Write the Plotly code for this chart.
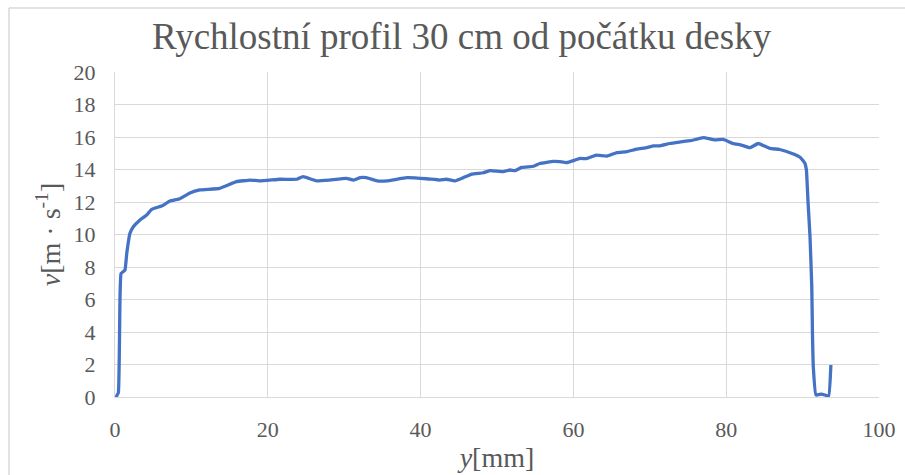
import plotly.graph_objects as go

# Velocity profile samples: distance from the plate y [mm] and velocity v [m/s]
y_mm = [0.0, 0.13, 0.44, 0.65, 0.79, 1.3, 1.53, 1.96, 2.4, 3.27, 4.15, 4.8, 6.1, 7.2,
        8.5, 9.8, 11.1, 13.7, 15.9, 17.7, 19.0, 21.6, 23.8, 24.6, 26.4, 28.1, 30.3,
        31.2, 32.1, 32.9, 34.3, 35.6, 38.2, 40.8, 42.5, 43.4, 44.5, 45.6, 46.7, 48.2,
        49.1, 50.8, 51.7, 52.4, 53.2, 54.8, 55.6, 57.4, 58.2, 59.1, 60.9, 61.7, 63.0,
        64.4, 65.7, 67.0, 68.3, 69.6, 70.5, 71.3, 72.6, 73.9, 75.3, 77.0, 78.5, 79.6,
        80.9, 82.0, 83.1, 84.2, 85.7, 87.0, 88.8, 89.7, 90.3, 90.5, 90.7, 90.97, 91.2,
        91.3, 91.4, 91.75, 92.5, 93.4, 93.7]
v_ms = [0.0, 0.0, 0.27, 6.0, 7.6, 7.8, 8.8, 10.07, 10.48, 10.9, 11.2, 11.55, 11.75, 12.06,
        12.2, 12.55, 12.74, 12.84, 13.25, 13.35, 13.3, 13.4, 13.4, 13.56, 13.3, 13.35, 13.45,
        13.35, 13.5, 13.5, 13.3, 13.3, 13.5, 13.43, 13.35, 13.4, 13.3, 13.5, 13.72, 13.8,
        13.93, 13.87, 13.97, 13.93, 14.13, 14.2, 14.37, 14.5, 14.48, 14.42, 14.68, 14.67, 14.89,
        14.83, 15.04, 15.1, 15.26, 15.34, 15.45, 15.45, 15.6, 15.69, 15.77, 15.96, 15.82, 15.85,
        15.6, 15.5, 15.34, 15.6, 15.3, 15.23, 14.95, 14.74, 14.38, 13.97, 12.1, 9.86, 6.79,
        3.7, 1.86, 0.12, 0.18, 0.06, 1.97]

x_ticks = [0, 20, 40, 60, 80, 100]
y_ticks = [0, 2, 4, 6, 8, 10, 12, 14, 16, 18, 20]

font_family = "Times New Roman, Liberation Serif, serif"
text_grey = "#595959"
grid_grey = "#d9d9d9"
tick_font = dict(family=font_family, size=22, color=text_grey)
label_font = dict(family=font_family, size=28, color=text_grey)

fig = go.Figure()
fig.add_trace(go.Scatter(
    x=y_mm, y=v_ms, mode="lines",
    line=dict(color="#4472C4", width=3.3, shape="spline", smoothing=0.3),
    hoverinfo="x+y",
))

fig.update_layout(
    width=905, height=475,
    margin=dict(l=115, r=26, t=72, b=78),
    paper_bgcolor="white", plot_bgcolor="white",
    showlegend=False,
    font=dict(family=font_family, color=text_grey, size=22),
    title=dict(
        text="Rychlostní profil 30 cm od počátku desky",
        x=0.51, xref="container", xanchor="center",
        y=0.925, yref="container", yanchor="middle",
        font=dict(family=font_family, size=37, color=text_grey),
    ),
    xaxis=dict(
        range=[0, 100], tickvals=x_ticks, ticktext=[str(t) for t in x_ticks],
        tickfont=tick_font, automargin=False,
        showgrid=True, gridcolor=grid_grey, gridwidth=1.3,
        zeroline=False, showline=True, linecolor=grid_grey, linewidth=1.3,
        ticks="", ticklabelstandoff=12,
        title=dict(text="<i>y</i>[mm]", standoff=6, font=label_font),
    ),
    yaxis=dict(
        range=[0, 20], tickvals=y_ticks, ticktext=[str(t) for t in y_ticks],
        tickfont=tick_font, automargin=False,
        showgrid=True, gridcolor=grid_grey, gridwidth=1.3,
        zeroline=False, showline=True, linecolor=grid_grey, linewidth=1.3,
        ticks="", ticklabelstandoff=14,
        title=dict(text="<i>v</i>[m · s<sup>-1</sup>]", standoff=4, font=label_font),
    ),
)

# Light frame around the chart area
fig.add_shape(type="line", xref="paper", yref="paper",
              x0=(9 - 115) / 764, x1=(9 - 115) / 764, y0=(397 - 480) / 325, y1=(397 - 8) / 325,
              line=dict(color=grid_grey, width=1.5))
fig.add_shape(type="line", xref="paper", yref="paper",
              x0=(9 - 115) / 764, x1=(910 - 115) / 764, y0=(397 - 8) / 325, y1=(397 - 8) / 325,
              line=dict(color=grid_grey, width=1.5))

fig.write_html("out.html")
